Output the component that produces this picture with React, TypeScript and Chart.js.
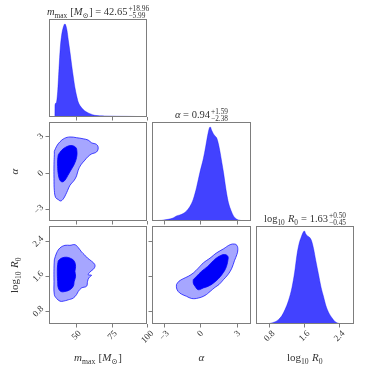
import React, { useEffect, useRef } from "react";
import { Chart, registerables } from "chart.js";

Chart.register(...registerables);

// ---------- axis ranges and ticks ----------
const mRange = [30.5, 100.2];
const aRange = [-4.0, 4.2];
const rRange = [0.5, 2.73];
const histRange = [0, 1.053];

const mTicks = [50, 75, 100];
const mTickLabels = ["50", "75", "100"];
const aTicks = [-3, 0, 3];
const aTickLabels = ["\u22123", "0", "3"];
const rTicks = [0.8, 1.6, 2.4];
const rTickLabels = ["0.8", "1.6", "2.4"];

// ---------- 1D marginals (normalised heights) ----------
const mHistX = [30.5, 34.7, 34.75, 35.6, 36.65, 37.6, 38.5, 39.5, 40.4, 41.4, 41.9, 42.3, 43.3, 44.2, 45.4, 46.6, 47.8, 48.9, 50.1, 51.3, 53.7, 56.0, 59.6, 63.1, 70.2, 86.7, 98.6, 100.2];
const mHistY = [0, 0, 0.13, 0.15, 0.27, 0.52, 0.74, 0.88, 0.95, 0.995, 1.0, 0.99, 0.93, 0.83, 0.7, 0.56, 0.43, 0.32, 0.23, 0.16, 0.1, 0.065, 0.036, 0.018, 0.011, 0.007, 0.004, 0.003];

const aHistX = [-4.0, -3.78, -3.22, -2.67, -2.25, -1.97, -1.69, -1.42, -1.14, -0.86, -0.58, -0.31, -0.03, 0.25, 0.44, 0.61, 0.75, 0.83, 0.94, 1.08, 1.22, 1.36, 1.5, 1.64, 1.78, 1.92, 2.06, 2.19, 2.33, 2.56, 2.75, 3.03, 3.31, 3.72, 4.2];
const aHistY = [0, 0.004, 0.007, 0.018, 0.032, 0.054, 0.064, 0.079, 0.107, 0.154, 0.232, 0.357, 0.518, 0.661, 0.786, 0.911, 0.989, 1.0, 0.964, 0.929, 0.904, 0.882, 0.821, 0.732, 0.625, 0.518, 0.393, 0.286, 0.196, 0.107, 0.054, 0.018, 0.007, 0, 0];

const rHistX = [0.5, 0.71, 0.82, 0.94, 1.01, 1.09, 1.16, 1.24, 1.32, 1.38, 1.43, 1.48, 1.53, 1.57, 1.6, 1.63, 1.67, 1.71, 1.76, 1.81, 1.86, 1.92, 1.98, 2.04, 2.09, 2.15, 2.23, 2.3, 2.38, 2.45, 2.73];
const rHistY = [0, 0, 0.007, 0.025, 0.047, 0.09, 0.155, 0.252, 0.396, 0.558, 0.737, 0.863, 0.935, 0.982, 1.0, 0.971, 0.946, 0.935, 0.899, 0.809, 0.683, 0.54, 0.396, 0.288, 0.198, 0.126, 0.065, 0.025, 0.007, 0, 0];

// ---------- 2D credible contours ----------
const maOuterX = [34.28, 35.94, 38.3, 41.38, 45.39, 50.12, 54.85, 58.4, 60.76, 64.31, 65.49, 64.31, 60.76, 58.4, 55.56, 53.2, 51.3, 50.12, 48.46, 45.39, 43.74, 42.32, 40.67, 38.78, 37.12, 35.23, 34.28, 34.05, 34.05, 34.28];
const maOuterY = [1.77, 2.2, 2.56, 2.84, 2.96, 2.9, 2.81, 2.7, 2.48, 2.34, 2.05, 1.72, 1.55, 1.35, 0.98, 0.65, 0.22, -0.26, -0.62, -1.05, -1.47, -1.83, -2.17, -2.34, -2.23, -2.06, -1.47, -0.48, 0.7, 1.49];
const maInnerX = [37.12, 39.49, 42.32, 46.1, 49.4, 50.36, 50.12, 48.46, 46.1, 43.74, 41.85, 39.96, 38.3, 37.12, 36.65, 36.65];
const maInnerY = [1.49, 1.86, 2.11, 2.25, 2.11, 1.77, 1.27, 0.7, 0.22, -0.26, -0.62, -0.76, -0.62, -0.14, 0.5, 1.07];

const mrOuterX = [34.28, 35.94, 38.3, 41.85, 45.39, 48.94, 51.3, 53.67, 55.56, 57.92, 60.76, 63.12, 62.65, 59.58, 58.4, 60.76, 58.87, 57.92, 57.22, 53.67, 51.3, 50.12, 47.76, 44.21, 40.67, 38.3, 35.94, 34.28, 34.05, 34.05];
const mrOuterY = [1.96, 2.12, 2.23, 2.29, 2.29, 2.305, 2.24, 2.14, 2.08, 2.0, 1.93, 1.85, 1.77, 1.68, 1.62, 1.61, 1.55, 1.47, 1.36, 1.32, 1.24, 1.17, 1.09, 1.05, 1.02, 1.02, 1.08, 1.17, 1.47, 1.77];
const mrInnerX = [37.12, 39.49, 43.03, 46.1, 48.46, 49.4, 48.94, 49.4, 48.46, 47.76, 45.39, 41.85, 39.01, 37.12, 36.65, 36.41, 36.65];
const mrInnerY = [1.94, 2.0, 2.02, 1.99, 1.93, 1.81, 1.7, 1.585, 1.47, 1.36, 1.28, 1.24, 1.24, 1.32, 1.47, 1.7, 1.85];

const arOuterX = [-1.97, -1.78, -1.42, -1.0, -0.58, -0.17, 0.25, 0.81, 1.36, 1.92, 2.47, 2.83, 3.03, 3.11, 3.03, 2.83, 2.61, 2.28, 1.92, 1.56, 1.22, 0.81, 0.39, -0.17, -0.72, -1.14, -1.56, -1.83, -1.97];
const arOuterY = [1.4, 1.47, 1.53, 1.585, 1.66, 1.77, 1.89, 2.0, 2.12, 2.21, 2.305, 2.32, 2.29, 2.19, 2.08, 1.94, 1.77, 1.62, 1.51, 1.4, 1.335, 1.24, 1.15, 1.09, 1.08, 1.13, 1.18, 1.24, 1.32];
const arInnerX = [-0.58, -0.31, 0.11, 0.61, 1.08, 1.56, 2.0, 2.28, 2.28, 2.11, 1.83, 1.5, 1.08, 0.67, 0.25, -0.17, -0.44, -0.58];
const arInnerY = [1.51, 1.585, 1.7, 1.81, 1.94, 2.04, 2.08, 2.04, 1.94, 1.77, 1.64, 1.53, 1.43, 1.36, 1.32, 1.28, 1.36, 1.43];

// ---------- styling / layout ----------
const W = 374;
const COLS = [[49, 147], [152, 251], [256, 354]];
const ROWS = [[19, 117], [122, 221], [226, 324]];
const SERIF = "'Liberation Serif', 'DejaVu Serif', serif";
const HIST_FILL = "rgba(0,0,255,0.74)";
const OUTER_FILL = "rgba(0,0,255,0.35)";
const OUTER_LINE = "rgba(0,0,255,0.7)";
const INNER_FILL = "rgb(0,0,250)";
const FRAME = "#7d7d7d";
const TEXT = "#333";
const TICK_SIZE = 9;
const LABEL_SIZE = 11;
const TITLE_SIZE = 10.5;

type Piece = { t?: string; it?: boolean; sub?: boolean; sup?: string; sb?: string };

function setFont(ctx: CanvasRenderingContext2D, size: number, it?: boolean) {
  ctx.font = `${it ? "italic " : ""}${size}px ${SERIF}`;
}

function mathWidth(ctx: CanvasRenderingContext2D, pieces: Piece[], size: number) {
  const small = size * 0.7;
  let w = 0;
  for (const p of pieces) {
    if (p.sup !== undefined) {
      setFont(ctx, small);
      w += Math.max(ctx.measureText(p.sup).width, ctx.measureText(p.sb || "").width) + 1;
    } else if (p.sub) {
      setFont(ctx, small, p.it);
      w += ctx.measureText(p.t || "").width + 0.5;
    } else {
      setFont(ctx, size, p.it);
      w += ctx.measureText(p.t || "").width;
    }
  }
  return w;
}

// draws centered horizontally at cx, baseline at by
function drawMath(ctx: CanvasRenderingContext2D, pieces: Piece[], size: number, cx: number, by: number) {
  const small = size * 0.7;
  let x = cx - mathWidth(ctx, pieces, size) / 2;
  ctx.textAlign = "left";
  ctx.textBaseline = "alphabetic";
  ctx.fillStyle = TEXT;
  for (const p of pieces) {
    if (p.sup !== undefined) {
      setFont(ctx, small);
      x += 1;
      ctx.fillText(p.sup, x, by - size * 0.42);
      ctx.fillText(p.sb || "", x, by + size * 0.3);
      x += Math.max(ctx.measureText(p.sup).width, ctx.measureText(p.sb || "").width);
    } else if (p.sub) {
      setFont(ctx, small, p.it);
      ctx.fillText(p.t || "", x, by + size * 0.25);
      x += ctx.measureText(p.t || "").width + 0.5;
    } else {
      setFont(ctx, size, p.it);
      ctx.fillText(p.t || "", x, by);
      x += ctx.measureText(p.t || "").width;
    }
  }
}

const mLabel: Piece[] = [{ t: "m", it: true }, { t: "max", sub: true }, { t: " [" }, { t: "M", it: true }, { t: "\u2299", sub: true }, { t: "]" }];
const aLabel: Piece[] = [{ t: "\u03b1", it: true }];
const rLabel: Piece[] = [{ t: "log" }, { t: "10", sub: true }, { t: " " }, { t: "R", it: true }, { t: "0", sub: true }];

const mTitle: Piece[] = [...mLabel, { t: " = 42.65" }, { sup: "+18.96", sb: "\u22125.99" }];
const aTitle: Piece[] = [...aLabel, { t: " = 0.94" }, { sup: "+1.59", sb: "\u22122.38" }];
const rTitle: Piece[] = [...rLabel, { t: " = 1.63" }, { sup: "+0.50", sb: "\u22120.45" }];

type AxisSpec = { range: number[]; ticks: number[]; labels: string[] };
const mAxis: AxisSpec = { range: mRange, ticks: mTicks, labels: mTickLabels };
const aAxis: AxisSpec = { range: aRange, ticks: aTicks, labels: aTickLabels };
const rAxis: AxisSpec = { range: rRange, ticks: rTicks, labels: rTickLabels };

type Panel = {
  col: number; row: number; x: AxisSpec; y: AxisSpec | null;
  hist?: { xs: number[]; ys: number[] };
  outer?: { xs: number[]; ys: number[] }; inner?: { xs: number[]; ys: number[] };
  xLabels: boolean; yTicks: boolean; yLabels: boolean;
  title?: Piece[]; xTitle?: Piece[]; yTitle?: Piece[];
};

const PANELS: Panel[] = [
  { col: 0, row: 0, x: mAxis, y: null, hist: { xs: mHistX, ys: mHistY }, xLabels: false, yTicks: false, yLabels: false, title: mTitle },
  { col: 0, row: 1, x: mAxis, y: aAxis, outer: { xs: maOuterX, ys: maOuterY }, inner: { xs: maInnerX, ys: maInnerY }, xLabels: false, yTicks: true, yLabels: true, yTitle: aLabel },
  { col: 1, row: 1, x: aAxis, y: null, hist: { xs: aHistX, ys: aHistY }, xLabels: false, yTicks: false, yLabels: false, title: aTitle },
  { col: 0, row: 2, x: mAxis, y: rAxis, outer: { xs: mrOuterX, ys: mrOuterY }, inner: { xs: mrInnerX, ys: mrInnerY }, xLabels: true, yTicks: true, yLabels: true, xTitle: mLabel, yTitle: rLabel },
  { col: 1, row: 2, x: aAxis, y: rAxis, outer: { xs: arOuterX, ys: arOuterY }, inner: { xs: arInnerX, ys: arInnerY }, xLabels: true, yTicks: true, yLabels: false, xTitle: aLabel },
  { col: 2, row: 2, x: rAxis, y: null, hist: { xs: rHistX, ys: rHistY }, xLabels: true, yTicks: false, yLabels: false, title: rTitle, xTitle: rLabel },
];

function pts(xs: number[], ys: number[], close: boolean) {
  const d = xs.map((x, i) => ({ x, y: ys[i] }));
  if (close) d.push({ x: xs[0], y: ys[0] });
  return d;
}

function makeChart(canvas: HTMLCanvasElement, p: Panel) {
  const [l, r] = COLS[p.col];
  const [t, b] = ROWS[p.row];
  const datasets: any[] = [];
  if (p.hist) {
    datasets.push({
      data: pts(p.hist.xs, p.hist.ys, false), fill: "origin", backgroundColor: HIST_FILL,
      borderColor: HIST_FILL, borderWidth: 0.5, pointRadius: 0, cubicInterpolationMode: "monotone",
    });
  }
  if (p.inner && p.outer) {
    datasets.push({
      data: pts(p.inner.xs, p.inner.ys, true), fill: "shape", backgroundColor: INNER_FILL,
      borderColor: INNER_FILL, borderWidth: 0.8, pointRadius: 0, tension: 0.4,
    });
    datasets.push({
      data: pts(p.outer.xs, p.outer.ys, true), fill: "shape", backgroundColor: OUTER_FILL,
      borderColor: OUTER_LINE, borderWidth: 1, pointRadius: 0, tension: 0.4,
    });
  }
  const yRange = p.y ? p.y.range : histRange;

  const decor = {
    id: "decor" + p.col + p.row,
    afterDraw(chart: any) {
      const ctx: CanvasRenderingContext2D = chart.ctx;
      const area = chart.chartArea;
      const xs = chart.scales.x;
      const ys = chart.scales.y;
      ctx.save();
      ctx.strokeStyle = FRAME;
      ctx.lineWidth = 1;
      ctx.strokeRect(Math.round(area.left) + 0.5, Math.round(area.top) + 0.5, Math.round(area.right - area.left) - 1, Math.round(area.bottom - area.top) - 1);
      // bottom ticks
      p.x.ticks.forEach((v, i) => {
        const px = Math.round(xs.getPixelForValue(v)) + 0.5;
        if (px < area.left - 1 || px > area.right + 1.5) return;
        ctx.beginPath();
        ctx.moveTo(px, area.bottom);
        ctx.lineTo(px, area.bottom + 3.5);
        ctx.stroke();
        if (p.xLabels) {
          const lab = p.x.labels[i];
          ctx.font = `${TICK_SIZE}px ${SERIF}`;
          const w = ctx.measureText(lab).width;
          const bb = (w + TICK_SIZE * 0.7) * Math.SQRT1_2;
          ctx.save();
          ctx.translate(px, area.bottom + 6 + bb / 2);
          ctx.rotate(-Math.PI / 4);
          ctx.fillStyle = TEXT;
          ctx.textAlign = "center";
          ctx.textBaseline = "middle";
          ctx.fillText(lab, 0, 0);
          ctx.restore();
        }
      });
      if (p.y && p.yTicks) {
        p.y.ticks.forEach((v, i) => {
          const py = Math.round(ys.getPixelForValue(v)) + 0.5;
          ctx.beginPath();
          ctx.moveTo(area.left, py);
          ctx.lineTo(area.left - 3.5, py);
          ctx.stroke();
          if (p.yLabels) {
            const lab = p.y!.labels[i];
            ctx.font = `${TICK_SIZE}px ${SERIF}`;
            const w = ctx.measureText(lab).width;
            const bb = (w + TICK_SIZE * 0.7) * Math.SQRT1_2;
            ctx.save();
            ctx.translate(area.left - 4.5 - bb / 2, py);
            ctx.rotate(-Math.PI / 4);
            ctx.fillStyle = TEXT;
            ctx.textAlign = "center";
            ctx.textBaseline = "middle";
            ctx.fillText(lab, 0, 0);
            ctx.restore();
          }
        });
      }
      const cx = (area.left + area.right) / 2;
      const cy = (area.top + area.bottom) / 2;
      if (p.title) drawMath(ctx, p.title, TITLE_SIZE, cx, area.top - 4);
      if (p.xTitle) drawMath(ctx, p.xTitle, LABEL_SIZE, cx, 361);
      if (p.yTitle) {
        ctx.save();
        ctx.translate(18, cy);
        ctx.rotate(-Math.PI / 2);
        drawMath(ctx, p.yTitle, LABEL_SIZE, 0, 0);
        ctx.restore();
      }
      ctx.restore();
    },
  };

  return new Chart(canvas, {
    type: "line",
    data: { datasets },
    options: {
      animation: false,
      responsive: false,
      devicePixelRatio: 1,
      events: [],
      layout: { padding: { left: l, right: W - r, top: t, bottom: W - b } },
      plugins: { legend: { display: false }, tooltip: { enabled: false }, title: { display: false } },
      scales: {
        x: { type: "linear", min: p.x.range[0], max: p.x.range[1], display: false },
        y: { type: "linear", min: yRange[0], max: yRange[1], display: false },
      },
    } as any,
    plugins: [decor],
  });
}

export default function App() {
  const refs = useRef<(HTMLCanvasElement | null)[]>([]);
  useEffect(() => {
    document.body.style.margin = "0";
    const charts = PANELS.map((p, i) => makeChart(refs.current[i]!, p));
    return () => charts.forEach((c) => c.destroy());
  }, []);
  return (
    <div style={{ position: "fixed", left: 0, top: 0, width: W, height: W, background: "#fff" }}>
      {PANELS.map((_, i) => (
        <canvas
          key={i}
          ref={(el) => { refs.current[i] = el; }}
          width={W}
          height={W}
          style={{ position: "absolute", left: 0, top: 0 }}
        />
      ))}
    </div>
  );
}
